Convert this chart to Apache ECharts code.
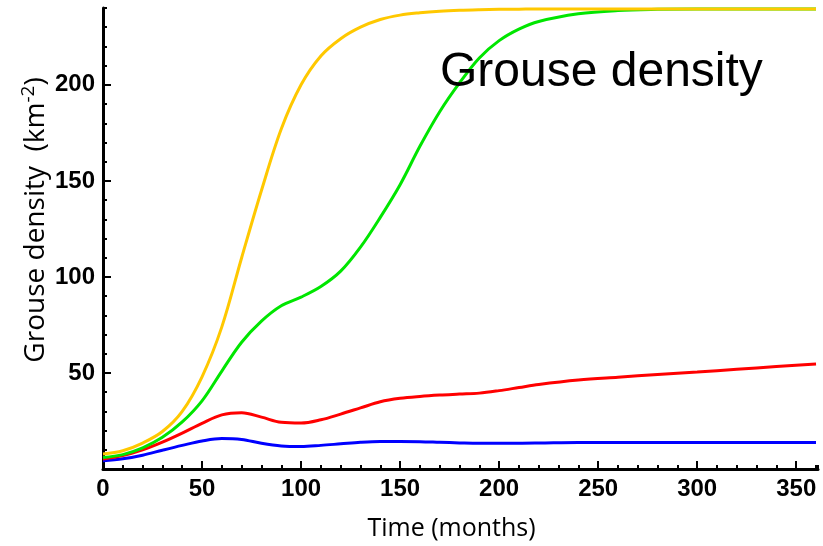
<!DOCTYPE html>
<html>
<head>
<meta charset="utf-8">
<script src="https://cdn.jsdelivr.net/npm/echarts@6/dist/echarts.min.js"></script>
<style>html,body{margin:0;padding:0;background:#fff}#c{width:823px;height:546px}</style>
</head>
<body>
<div id="c"></div>
<script>
// Time in months
var time = [0,10,20,30,40,50,60,70,80,90,100,110,120,130,140,150,160,170,180,190,200,210,220,240,260,280,300,320,340,360];
var yellow = [7.8,9.5,13.5,19.5,30,48,74,110,145,177,200,215,224,230,234,236.3,237.5,238.3,238.8,239.1,239.3,239.4,239.5,239.5,239.5,239.5,239.5,239.5,239.5,239.5];
var green  = [6,7.5,11,16.5,24.5,35.5,51,66,77,85,89.5,95,103,115.5,131,148,168,186,201,214,223,229,233,237,238.7,239.3,239.5,239.5,239.5,239.5];
var red    = [5.2,7,10,14,18.7,23.8,28.2,29.3,27,24.3,23.9,25.6,28.6,31.8,35,36.8,37.8,38.5,39,39.5,40.8,42.4,44,46.3,47.8,49.2,50.5,51.9,53.3,54.7];
var blue   = [4.3,5.3,7.2,9.8,12.3,14.6,15.9,15.4,13.4,12,11.7,12.3,13.1,13.9,14.3,14.3,14.2,13.9,13.6,13.4,13.4,13.4,13.5,13.8,13.8,13.8,13.8,13.8,13.8,13.8];
var seriesNames = ['yellow','green','red','blue'];
var seriesColors = ['#FFC800','#00E600','#FF0000','#0000FF'];
var xTitle = 'Time (months)';
var yTitleMain = 'Grouse density  (km';
var yTitleSup = '-2';
var yTitleEnd = ')';
var annotation = 'Grouse density';

function pairs(v){ return time.map(function(t,i){ return [t, v[i]]; }); }
var allData = [yellow, green, red, blue];

var chart = echarts.init(document.getElementById('c'), null, {renderer:'canvas'});
var tickFont = {fontFamily:'Liberation Sans', fontWeight:'bold', fontSize:24, color:'#000'};
chart.setOption({
  animation:false,
  backgroundColor:'#fff',
  grid:{left:103, right:5, top:8, bottom:74, containLabel:false},
  xAxis:[{
    type:'value', min:0, max:361, interval:50, position:'bottom',
    axisLine:{show:true, onZero:false, lineStyle:{color:'#000', width:3}},
    axisTick:{show:true, inside:true, length:8, lineStyle:{color:'#000', width:2}},
    axisLabel:Object.assign({margin:8, showMaxLabel:false}, tickFont),
    splitLine:{show:false},
    name:xTitle, nameLocation:'middle', nameGap:47,
    nameTextStyle:{fontFamily:'Open Sans', fontSize:25, color:'#000', padding:[0,18,0,0]}
  },{
    type:'value', min:0, max:361, interval:10, position:'bottom',
    axisLine:{show:false, onZero:false},
    axisTick:{show:true, inside:true, length:4, lineStyle:{color:'#000', width:2}},
    axisLabel:{show:false}, splitLine:{show:false}
  }],
  yAxis:[{
    type:'value', min:0, max:240, interval:50, position:'left',
    axisLine:{show:true, onZero:false, lineStyle:{color:'#000', width:3}},
    axisTick:{show:true, inside:true, length:8, lineStyle:{color:'#000', width:2}},
    axisLabel:Object.assign({margin:8, showMinLabel:false, showMaxLabel:false}, tickFont),
    splitLine:{show:false}
  },{
    type:'value', min:0, max:240, interval:10, position:'left',
    axisLine:{show:false, onZero:false},
    axisTick:{show:true, inside:true, length:4, lineStyle:{color:'#000', width:2}},
    axisLabel:{show:false}, splitLine:{show:false}
  }],
  graphic:[{
    type:'text', left:440, top:49, silent:true, z:10,
    style:{text:annotation, font:'48px "Liberation Sans"', fill:'#000'}
  },{
    type:'text', x:36, y:220, rotation:Math.PI/2, silent:true, z:10,
    style:{
      text:yTitleMain + '{sup|' + yTitleSup + '}' + yTitleEnd,
      font:'28px "Open Sans"', fill:'#000',
      align:'center', verticalAlign:'middle', textAlign:'center', textVerticalAlign:'middle',
      rich:{sup:{fontSize:19, fontFamily:'Open Sans', fill:'#000', color:'#000', verticalAlign:'top', padding:[0,0,14,0]}}
    }
  }],
  series: allData.map(function(d,i){
    return {type:'line', name:seriesNames[i], data:pairs(d), xAxisIndex:0, yAxisIndex:0,
      smooth:0.35, showSymbol:false, symbol:'none', clip:false,
      lineStyle:{color:seriesColors[i], width:3}, z:3-i+2};
  })
});
</script>
</body>
</html>
